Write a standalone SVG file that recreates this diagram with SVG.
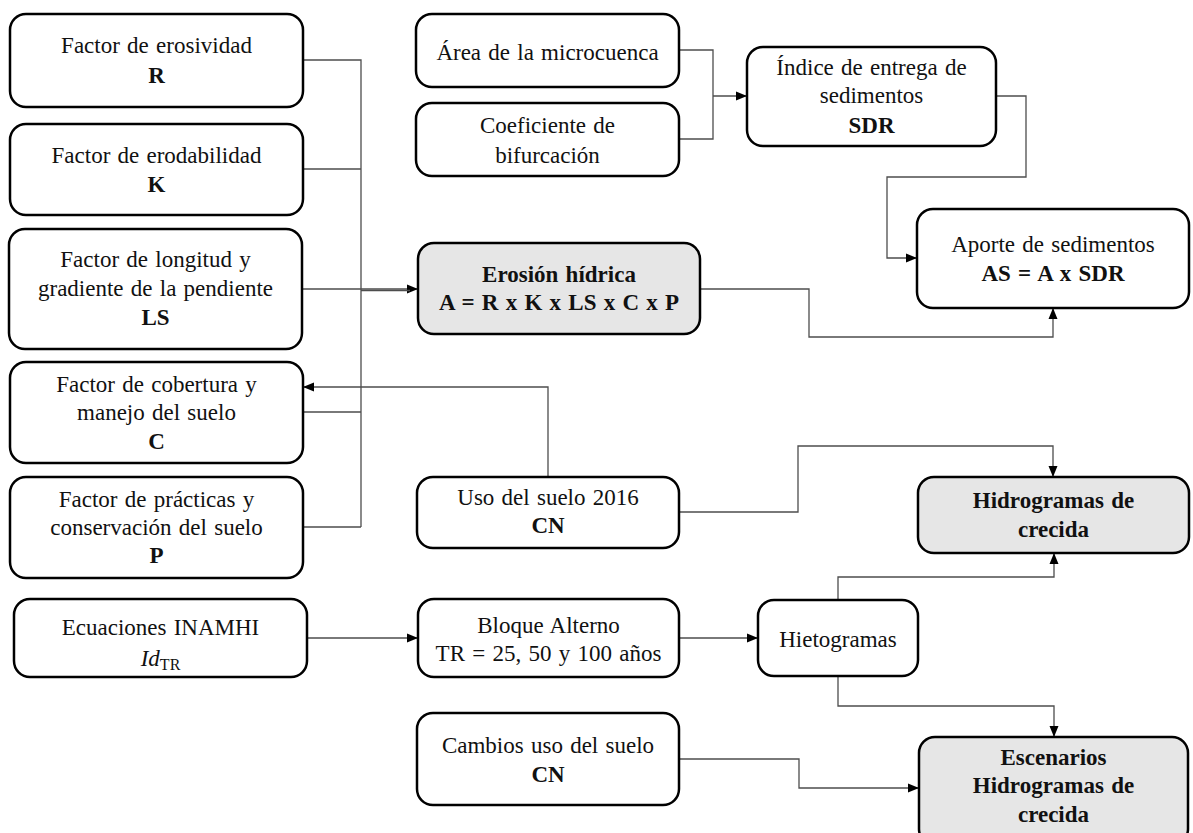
<svg xmlns="http://www.w3.org/2000/svg" width="1193" height="833" viewBox="0 0 1193 833">
<style>
  .box{fill:#ffffff;stroke:#000;stroke-width:2.5}
  .gray{fill:#e6e6e6}
  text{font-family:"Liberation Serif","Times New Roman",serif;font-size:23px;fill:#111;text-anchor:middle;word-spacing:1.5px}
  .b{font-weight:bold}
  .con{fill:none;stroke:#4d4d4d;stroke-width:1.3}
</style>
<defs>
  <marker id="arr" markerUnits="userSpaceOnUse" markerWidth="12" markerHeight="10" refX="11" refY="5" orient="auto">
    <path d="M0,0.5 L11,5 L0,9.5 z" fill="#000"/>
  </marker>
</defs>
<rect width="1193" height="833" fill="#fff"/>

<g id="connectors">
  <path class="con" d="M303,60 H361 V527"/>
  <path class="con" d="M303,169 H361"/>
  <path class="con" d="M303,412 H361"/>
  <path class="con" d="M303,527 H361"/>
  <path class="con" d="M302,289 H418" marker-end="url(#arr)"/>
  <path class="con" d="M361,290.5 H410"/>
  <path class="con" d="M679,50 H713 V139 H679"/>
  <path class="con" d="M713,96 H747" marker-end="url(#arr)"/>
  <path class="con" d="M996,96 H1026 V177 H887 V258 H917" marker-end="url(#arr)"/>
  <path class="con" d="M700,289 H809 V337 H1053 V308" marker-end="url(#arr)"/>
  <path class="con" d="M548,477 V387 H303" marker-end="url(#arr)"/>
  <path class="con" d="M679,512 H798 V446 H1053 V477" marker-end="url(#arr)"/>
  <path class="con" d="M307,638 H418" marker-end="url(#arr)"/>
  <path class="con" d="M679,638 H758" marker-end="url(#arr)"/>
  <path class="con" d="M838,600 V577 H1054 V553" marker-end="url(#arr)"/>
  <path class="con" d="M838,676 V706 H1054 V737" marker-end="url(#arr)"/>
  <path class="con" d="M679,759 H799 V788 H919" marker-end="url(#arr)"/>
</g>

<g id="node-R">
  <rect class="box" x="10" y="14" width="293" height="93" rx="16"/>
  <text x="156.5" y="53">Factor de erosividad</text>
  <text class="b" x="156.5" y="83">R</text>
</g>
<g id="node-K">
  <rect class="box" x="10" y="124" width="293" height="91" rx="16"/>
  <text x="156.5" y="163">Factor de erodabilidad</text>
  <text class="b" x="156.5" y="192">K</text>
</g>
<g id="node-LS">
  <rect class="box" x="9" y="229" width="293" height="120" rx="16"/>
  <text x="155.5" y="267">Factor de longitud y</text>
  <text x="155.5" y="296">gradiente de la pendiente</text>
  <text class="b" x="155.5" y="325">LS</text>
</g>
<g id="node-C">
  <rect class="box" x="10" y="362" width="293" height="101" rx="16"/>
  <text x="156.5" y="392">Factor de cobertura y</text>
  <text x="156.5" y="420">manejo del suelo</text>
  <text class="b" x="156.5" y="449">C</text>
</g>
<g id="node-P">
  <rect class="box" x="10" y="477" width="293" height="101" rx="16"/>
  <text x="156.5" y="507">Factor de prácticas y</text>
  <text x="156.5" y="535">conservación del suelo</text>
  <text class="b" x="156.5" y="563">P</text>
</g>
<g id="node-ecuaciones">
  <rect class="box" x="14" y="599" width="293" height="78" rx="16"/>
  <text x="160.5" y="635">Ecuaciones INAMHI</text>
  <text x="160.5" y="666"><tspan font-style="italic">Id</tspan><tspan font-size="16" dy="4">TR</tspan></text>
</g>
<g id="node-area">
  <rect class="box" x="416" y="14" width="263" height="73" rx="16"/>
  <text x="547.5" y="60">Área de la microcuenca</text>
</g>
<g id="node-coef">
  <rect class="box" x="416" y="103" width="263" height="73" rx="16"/>
  <text x="547.5" y="133">Coeficiente de</text>
  <text x="547.5" y="163">bifurcación</text>
</g>
<g id="node-SDR">
  <rect class="box" x="747" y="47" width="249" height="99" rx="16"/>
  <text x="871.5" y="75">Índice de entrega de</text>
  <text x="871.5" y="103">sedimentos</text>
  <text class="b" x="871.5" y="133">SDR</text>
</g>
<g id="node-AS">
  <rect class="box" x="917" y="209" width="272" height="99" rx="16"/>
  <text x="1053" y="252">Aporte de sedimentos</text>
  <text class="b" x="1053" y="281">AS = A x SDR</text>
</g>
<g id="node-erosion">
  <rect class="box gray" x="418" y="243" width="282" height="91" rx="16"/>
  <text class="b" x="559" y="282">Erosión hídrica</text>
  <text class="b" x="559" y="310">A = R x K x LS x C x P</text>
</g>
<g id="node-uso">
  <rect class="box" x="417" y="477" width="262" height="71" rx="16"/>
  <text x="548" y="505">Uso del suelo 2016</text>
  <text class="b" x="548" y="533">CN</text>
</g>
<g id="node-hidrogramas">
  <rect class="box gray" x="918" y="477" width="271" height="76" rx="16"/>
  <text class="b" x="1053.5" y="508">Hidrogramas de</text>
  <text class="b" x="1053.5" y="537">crecida</text>
</g>
<g id="node-bloque">
  <rect class="box" x="418" y="599" width="261" height="78" rx="16"/>
  <text x="548.5" y="633">Bloque Alterno</text>
  <text x="548.5" y="661">TR = 25, 50 y 100 años</text>
</g>
<g id="node-hietogramas">
  <rect class="box" x="758" y="600" width="160" height="76" rx="16"/>
  <text x="838" y="647">Hietogramas</text>
</g>
<g id="node-cambios">
  <rect class="box" x="417" y="713" width="262" height="92" rx="16"/>
  <text x="548" y="753">Cambios uso del suelo</text>
  <text class="b" x="548" y="782">CN</text>
</g>
<g id="node-escenarios">
  <rect class="box gray" x="919" y="737" width="269" height="108" rx="16"/>
  <text class="b" x="1053.5" y="765">Escenarios</text>
  <text class="b" x="1053.5" y="793">Hidrogramas de</text>
  <text class="b" x="1053.5" y="822">crecida</text>
</g>
</svg>
